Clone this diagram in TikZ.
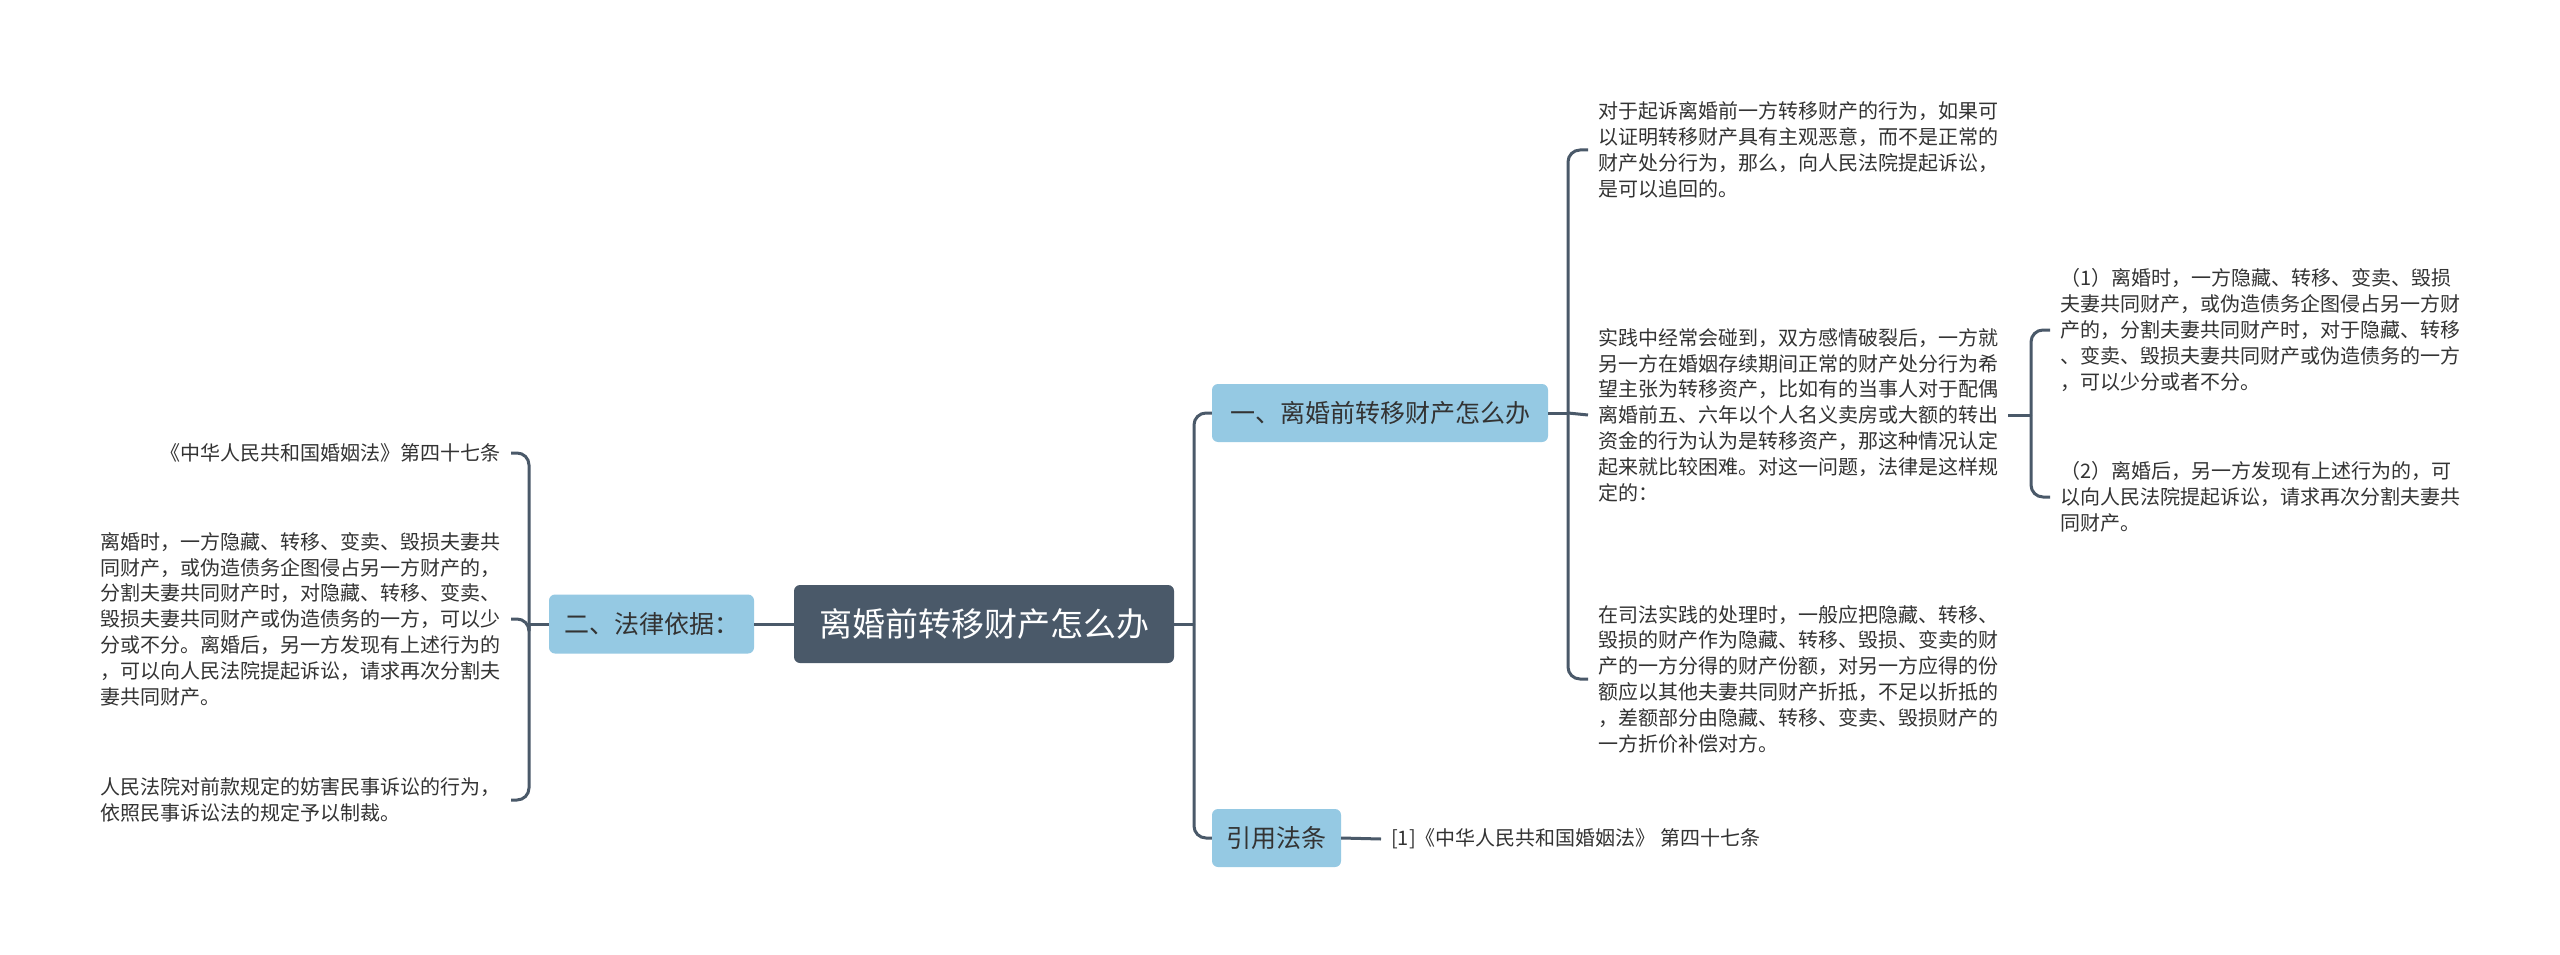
\documentclass[tikz,border=0pt]{standalone}
\usepackage{fontspec}
\setmainfont{Noto Sans CJK SC}
\definecolor{rootSlate}{HTML}{4A5969}
\definecolor{branchBlue}{HTML}{95C9E3}
\definecolor{lineSlate}{HTML}{4A5969}
\definecolor{textDark}{HTML}{333333}
\usetikzlibrary{calc, positioning}
\usepackage{xcolor}

\begin{document}
\begin{tikzpicture}[x=1pt, y=-1pt,
    rootbox/.style={fill=rootSlate, rounded corners=6pt, text=white, inner sep=0pt,
      font=\fontsize{33}{38}\selectfont},
    branchbox/.style={fill=branchBlue, rounded corners=6pt, text=textDark, inner sep=0pt,
      font=\fontsize{25}{30}\selectfont},
    leaftext/.style={text=textDark, inner xsep=10pt, inner ysep=3pt, align=left,
      font=\fontsize{20}{25.8}\selectfont},
    conn/.style={draw=lineSlate, line width=3pt, rounded corners=12pt}]
  \fill[white] (0,0) rectangle (2560,955);
  \useasboundingbox (0,0) rectangle (2560,955);

  \node[rootbox, minimum width=380pt, minimum height=78pt] (root) at (984,624) {离婚前转移财产怎么办};
  \node[branchbox, minimum width=336pt, minimum height=58pt] (bOne) at (1380,413) {一、离婚前转移财产怎么办};
  \node[branchbox, minimum width=205pt, minimum height=59pt] (bTwo) at (651.5,624) {二、法律依据：};
  \node[branchbox, minimum width=129pt, minimum height=58pt] (bCite) at (1276.5,838) {引用法条};

  \node[leaftext, anchor=west] (tOne) at (1588,150) {%
    对于起诉离婚前一方转移财产的行为，如果可\\
    以证明转移财产具有主观恶意，而不是正常的\\
    财产处分行为，那么，向人民法院提起诉讼，\\
    是可以追回的。};
  \node[leaftext, anchor=west] (tTwo) at (1588,415) {%
    实践中经常会碰到，双方感情破裂后，一方就\\
    另一方在婚姻存续期间正常的财产处分行为希\\
    望主张为转移资产，比如有的当事人对于配偶\\
    离婚前五、六年以个人名义卖房或大额的转出\\
    资金的行为认为是转移资产，那这种情况认定\\
    起来就比较困难。对这一问题，法律是这样规\\
    定的：};
  \node[leaftext, anchor=west] (tThree) at (1588,679) {%
    在司法实践的处理时，一般应把隐藏、转移、\\
    毁损的财产作为隐藏、转移、毁损、变卖的财\\
    产的一方分得的财产份额，对另一方应得的份\\
    额应以其他夫妻共同财产折抵，不足以折抵的\\
    ，差额部分由隐藏、转移、变卖、毁损财产的\\
    一方折价补偿对方。};
  \node[leaftext, anchor=west] (tRuleOne) at (2050,330) {%
    （1）离婚时，一方隐藏、转移、变卖、毁损\\
    夫妻共同财产，或伪造债务企图侵占另一方财\\
    产的，分割夫妻共同财产时，对于隐藏、转移\\
    、变卖、毁损夫妻共同财产或伪造债务的一方\\
    ，可以少分或者不分。};
  \node[leaftext, anchor=west] (tRuleTwo) at (2050,497) {%
    （2）离婚后，另一方发现有上述行为的，可\\
    以向人民法院提起诉讼，请求再次分割夫妻共\\
    同财产。};

  \node[leaftext, anchor=east] (lLaw) at (511,453) {《中华人民共和国婚姻法》第四十七条};
  \node[leaftext, anchor=east] (lArticle) at (511,619) {%
    离婚时，一方隐藏、转移、变卖、毁损夫妻共\\
    同财产，或伪造债务企图侵占另一方财产的，\\
    分割夫妻共同财产时，对隐藏、转移、变卖、\\
    毁损夫妻共同财产或伪造债务的一方，可以少\\
    分或不分。离婚后，另一方发现有上述行为的\\
    ，可以向人民法院提起诉讼，请求再次分割夫\\
    妻共同财产。};
  \node[leaftext, anchor=east] (lCourt) at (511,800) {%
    人民法院对前款规定的妨害民事诉讼的行为，\\
    依照民事诉讼法的规定予以制裁。};

  \node[leaftext, anchor=west] (cite) at (1381,839) {[1]《中华人民共和国婚姻法》 第四十七条};

  \coordinate (rootSpine) at (1194,624);
  \coordinate (oneSpine) at (1568,413);
  \coordinate (twoSpine) at (2031,415);
  \coordinate (leftSpine) at (529,624);

  \draw[conn] (root.east) -- (rootSpine);
  \draw[conn] (rootSpine) |- (bOne.west);
  \draw[conn] (rootSpine) |- (bCite.west);
  \draw[conn] (bCite.east) -- (cite.west);

  \draw[conn] (bOne.east) -- (oneSpine);
  \draw[conn] (oneSpine) |- (tOne.west);
  \draw[conn] (oneSpine) -- (tTwo.west);
  \draw[conn] (oneSpine) |- (tThree.west);

  \draw[conn] (tTwo.east) -- (twoSpine);
  \draw[conn] (twoSpine) |- (tRuleOne.west);
  \draw[conn] (twoSpine) |- (tRuleTwo.west);

  \draw[conn] (root.west) -- (bTwo.east);
  \draw[conn] (bTwo.west) -- (leftSpine);
  \draw[conn] (leftSpine) |- (lLaw.east);
  \draw[conn] (leftSpine) |- (lArticle.east);
  \draw[conn] (leftSpine) |- (lCourt.east);
\end{tikzpicture}
\end{document}
